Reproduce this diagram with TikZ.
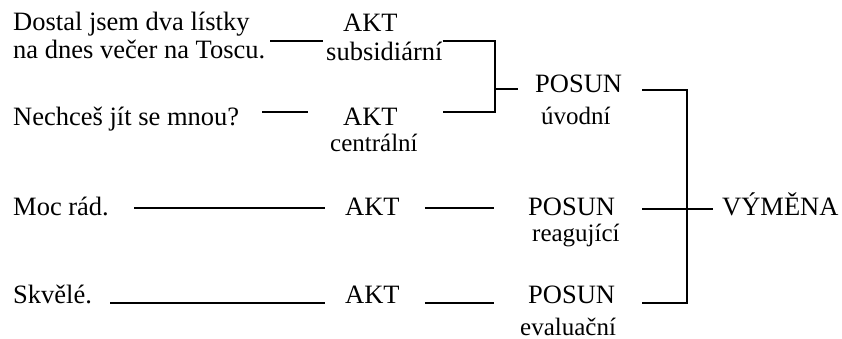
\documentclass[tikz,border=0pt]{standalone}
\usepackage{fontspec}
\setmainfont{Liberation Serif}
\tikzset{
  txt/.style={inner sep=0pt, anchor=base west, font=\fontsize{26.5}{28}\selectfont},
  lab/.style={inner sep=0pt, anchor=base west, font=\fontsize{25}{28}\selectfont},
  conn/.style={line width=1.1pt, black}
}
\begin{document}
\begin{tikzpicture}[x=1pt, y=-1pt]
\useasboundingbox (0,0) rectangle (842,339);
% utterances
\node[txt, align=left] (t1) at (13,59) {Dostal jsem dva lístky\\na dnes večer na Toscu.};
\node[txt] (t2) at (13,126) {Nechceš jít se mnou?};
\node[txt] (t3) at (13,215) {Moc rád.};
\node[txt] (t4) at (13,303) {Skvělé.};
% acts
\node[txt] (a1) at (343,32) {AKT};
\node[lab, font=\fontsize{26.5}{28}\selectfont] (a1s) at (326,61) {subsidiární};
\node[txt] (a2) at (343,126) {AKT};
\node[lab] (a2s) at (330,152) {centrální};
\node[txt] (a3) at (345,215) {AKT};
\node[txt] (a4) at (345,303) {AKT};
% moves
\node[txt] (p1) at (535,93) {POSUN};
\node[lab] (p1s) at (541,125) {úvodní};
\node[txt] (p2) at (528,215) {POSUN};
\node[lab] (p2s) at (532,241) {reagující};
\node[txt] (p3) at (528,303) {POSUN};
\node[lab] (p3s) at (520,335) {evaluační};
% exchange
\node[txt] (v) at (722,215) {VÝMĚNA};
% junctions
\coordinate (b1t) at (495,41);
\coordinate (b1b) at (495,112);
\coordinate (b1m) at (495,89);
\coordinate (b2t) at (687,90);
\coordinate (b2m) at (687,209);
\coordinate (b2b) at (687,303);
\coordinate (r3) at (0,208);
\coordinate (r4) at (0,303);
% connectors
\draw[conn, shorten <=5pt, shorten >=3pt] (t1.east |- b1t) -- (a1s.west |- b1t);
\draw[conn, shorten <=23pt, shorten >=35pt] (t2.east |- b1b) -- (a2.west |- b1b);
\draw[conn, shorten <=25pt, shorten >=20pt] (t3.east |- r3) -- (a3.west |- r3);
\draw[conn, shorten <=18pt, shorten >=20pt] (t4.east |- r4) -- (a4.west |- r4);
\draw[conn, shorten <=25pt, shorten >=34pt] (a3.east |- r3) -- (p2.west |- r3);
\draw[conn, shorten <=25pt, shorten >=34pt] (a4.east |- r4) -- (p3.west |- r4);
\draw[conn] (a1s.east |- b1t) -- (b1t) -- (b1b) -- (a1s.east |- b1b);
\draw[conn, shorten >=17pt] (b1m) -- (p1.west |- b1m);
\draw[conn, shorten <=20pt, shorten >=27pt] (p1.east |- b2t) -- (b2t) -- (b2b) -- (p3.east |- b2b);
\draw[conn, shorten <=27pt, shorten >=9pt] (p2.east |- b2m) -- (v.west |- b2m);
\end{tikzpicture}
\end{document}
